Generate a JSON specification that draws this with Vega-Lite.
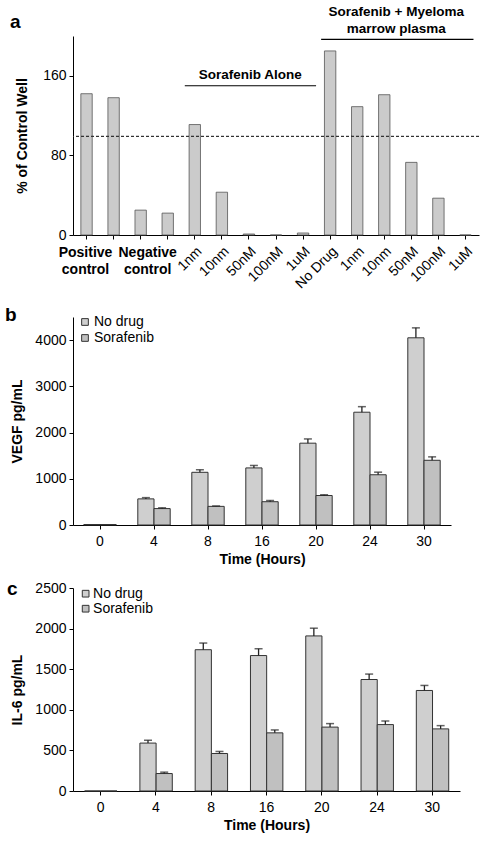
{
  "spacing": 14,
  "config": {
    "view": {"stroke": null},
    "axis": {
      "grid": false,
      "domainColor": "#000",
      "tickColor": "#000",
      "labelColor": "#000",
      "titleColor": "#000",
      "labelFont": "Liberation Sans",
      "titleFont": "Liberation Sans",
      "labelFontSize": 14,
      "titleFontSize": 14,
      "titleFontWeight": "bold",
      "tickSize": 4,
      "labelPadding": 3
    },
    "legend": {"labelFont": "Liberation Sans"},
    "text": {"font": "Liberation Sans"},
    "title": {"font": "Liberation Sans", "fontSize": 19, "fontWeight": "bold", "color": "#000"}
  },
  "vconcat": [
    {
      "width": 406,
      "height": 199,
      "title": {"text": "a", "anchor": "start", "frame": "group", "dx": -63, "offset": -27},
      "data": {
        "values": [
          {"id": " ", "value": 142},
          {"id": "  ", "value": 138},
          {"id": "   ", "value": 25},
          {"id": "    ", "value": 22},
          {"id": "1nm", "value": 111},
          {"id": "10nm", "value": 43},
          {"id": "50nM", "value": 1},
          {"id": "100nM", "value": 0},
          {"id": "1uM", "value": 2},
          {"id": "No Drug", "value": 185},
          {"id": "1nm ", "value": 129},
          {"id": "10nm ", "value": 141},
          {"id": "50nM ", "value": 73},
          {"id": "100nM ", "value": 37},
          {"id": "1uM ", "value": 0}
        ]
      },
      "layer": [
        {
          "mark": {"type": "bar", "color": "#cbcbcb", "stroke": "#555", "strokeWidth": 0.8},
          "encoding": {
            "x": {
              "field": "id", "type": "nominal",
              "scale": {
                "domain": [" ", "  ", "   ", "    ", "1nm", "10nm", "50nM", "100nM", "1uM", "No Drug", "1nm ", "10nm ", "50nM ", "100nM ", "1uM "],
                "paddingInner": 0.58, "paddingOuter": 0.29
              },
              "axis": {"title": null, "labelAngle": -45, "labelPadding": 5}
            },
            "y": {
              "field": "value", "type": "quantitative",
              "scale": {"domain": [0, 200], "nice": false},
              "axis": {"title": "% of Control Well", "values": [0, 20, 40, 60, 80, 100, 120, 140, 160, 180, 200], "titlePadding": 13, "labelOverlap": false, "labelSeparation": -12}
            }
          }
        },
        {
          "mark": {"type": "rule", "strokeDash": [3, 2], "color": "#333", "strokeWidth": 1},
          "encoding": {"y": {"datum": 99}}
        },
        {
          "data": {"values": [{"id": " ", "label": ["Positive", "control"]}]},
          "mark": {"type": "text", "fontWeight": "bold", "fontSize": 14, "baseline": "middle", "lineHeight": 16.6, "dx": -1},
          "encoding": {
            "x": {"field": "id", "type": "nominal"},
            "y": {"datum": -18},
            "text": {"field": "label"}
          }
        },
        {
          "data": {"values": [{"id": "   ", "label": ["Negative", "control"]}]},
          "mark": {"type": "text", "fontWeight": "bold", "fontSize": 14, "baseline": "middle", "lineHeight": 16.6, "dx": 7},
          "encoding": {
            "x": {"field": "id", "type": "nominal"},
            "y": {"datum": -18},
            "text": {"field": "label"}
          }
        },
        {
          "data": {"values": [{"from": "1nm", "to": "1uM"}]},
          "mark": {"type": "rule", "color": "#000", "strokeWidth": 1.2, "xOffset": -10, "x2Offset": 13},
          "encoding": {
            "x": {"field": "from", "type": "nominal"},
            "x2": {"field": "to"},
            "y": {"datum": 150}
          }
        },
        {
          "data": {"values": [{"id": "50nM", "label": "Sorafenib Alone"}]},
          "mark": {"type": "text", "fontWeight": "bold", "fontSize": 13.5, "baseline": "middle", "dx": 1.3},
          "encoding": {
            "x": {"field": "id", "type": "nominal"},
            "y": {"datum": 161},
            "text": {"field": "label"}
          }
        },
        {
          "data": {"values": [{"from": "No Drug", "to": "1uM "}]},
          "mark": {"type": "rule", "color": "#000", "strokeWidth": 1.2, "xOffset": -9, "x2Offset": 8},
          "encoding": {
            "x": {"field": "from", "type": "nominal"},
            "x2": {"field": "to"},
            "y": {"datum": 196.7}
          }
        },
        {
          "data": {"values": [{"id": "10nm ", "label": ["Sorafenib + Myeloma", "marrow plasma"]}]},
          "mark": {"type": "text", "fontWeight": "bold", "fontSize": 13.5, "baseline": "middle", "lineHeight": 16.6, "dx": 12},
          "encoding": {
            "x": {"field": "id", "type": "nominal"},
            "y": {"datum": 224},
            "text": {"field": "label"}
          }
        }
      ]
    },
    {
      "width": 378,
      "height": 208,
      "title": {"text": "b", "anchor": "start", "frame": "group", "dx": -68, "offset": -10},
      "data": {
        "values": [
          {"time": "0", "series": "No drug", "value": 10, "err": null},
          {"time": "0", "series": "Sorafenib", "value": 10, "err": null},
          {"time": "4", "series": "No drug", "value": 565, "err": 592},
          {"time": "4", "series": "Sorafenib", "value": 355, "err": 372},
          {"time": "8", "series": "No drug", "value": 1140, "err": 1195},
          {"time": "8", "series": "Sorafenib", "value": 403, "err": 412},
          {"time": "16", "series": "No drug", "value": 1235, "err": 1288},
          {"time": "16", "series": "Sorafenib", "value": 504, "err": 530},
          {"time": "20", "series": "No drug", "value": 1770, "err": 1862},
          {"time": "20", "series": "Sorafenib", "value": 638, "err": 655},
          {"time": "24", "series": "No drug", "value": 2440, "err": 2560},
          {"time": "24", "series": "Sorafenib", "value": 1087, "err": 1143},
          {"time": "30", "series": "No drug", "value": 4050, "err": 4265},
          {"time": "30", "series": "Sorafenib", "value": 1400, "err": 1474}
        ]
      },
      "layer": [
        {
          "mark": {"type": "bar", "stroke": "#333", "strokeWidth": 1},
          "encoding": {
            "x": {
              "field": "time", "type": "nominal",
              "scale": {"domain": ["0", "4", "8", "16", "20", "24", "30"], "paddingInner": 0.4, "paddingOuter": 0.2},
              "axis": {"title": "Time (Hours)", "labelAngle": 0, "labelPadding": 5, "titlePadding": 4}
            },
            "xOffset": {"field": "series", "type": "nominal", "scale": {"domain": ["No drug", "Sorafenib"]}},
            "y": {
              "field": "value", "type": "quantitative",
              "scale": {"domain": [0, 4500], "nice": false},
              "axis": {"title": "VEGF pg/mL", "values": [0, 500, 1000, 1500, 2000, 2500, 3000, 3500, 4000, 4500], "format": "d", "titlePadding": 10, "labelOverlap": false, "labelSeparation": -12}
            },
            "color": {
              "field": "series", "type": "nominal",
              "scale": {"domain": ["No drug", "Sorafenib"], "range": ["#cfcfcf", "#c0c0c0"]},
              "legend": null
            }
          }
        },
        {
          "transform": [{"filter": "isValid(datum.err)"}],
          "mark": {"type": "rule", "color": "#222", "strokeWidth": 1.3},
          "encoding": {
            "x": {"field": "time", "type": "nominal"},
            "xOffset": {"field": "series", "type": "nominal"},
            "y": {"field": "value", "type": "quantitative"},
            "y2": {"field": "err"}
          }
        },
        {
          "transform": [{"filter": "isValid(datum.err)"}],
          "mark": {"type": "tick", "color": "#222", "thickness": 1.5, "size": 8},
          "encoding": {
            "x": {"field": "time", "type": "nominal"},
            "xOffset": {"field": "series", "type": "nominal"},
            "y": {"field": "err", "type": "quantitative"}
          }
        },
        {
          "data": {"values": [{"time": "0"}]},
          "mark": {"type": "square", "size": 45, "color": "#cfcfcf", "stroke": "#333", "strokeWidth": 1, "opacity": 1, "xOffset": -15},
          "encoding": {"x": {"field": "time", "type": "nominal"}, "y": {"datum": 4392}}
        },
        {
          "data": {"values": [{"time": "0"}]},
          "mark": {"type": "square", "size": 45, "color": "#c0c0c0", "stroke": "#333", "strokeWidth": 1, "opacity": 1, "xOffset": -15},
          "encoding": {"x": {"field": "time", "type": "nominal"}, "y": {"datum": 4046}}
        },
        {
          "data": {"values": [{"time": "0", "label": "No drug"}]},
          "mark": {"type": "text", "fontSize": 14, "align": "left", "baseline": "middle", "dx": -6},
          "encoding": {"x": {"field": "time", "type": "nominal"}, "y": {"datum": 4392}, "text": {"field": "label"}}
        },
        {
          "data": {"values": [{"time": "0", "label": "Sorafenib"}]},
          "mark": {"type": "text", "fontSize": 14, "align": "left", "baseline": "middle", "dx": -6},
          "encoding": {"x": {"field": "time", "type": "nominal"}, "y": {"datum": 4046}, "text": {"field": "label"}}
        }
      ]
    },
    {
      "width": 387,
      "height": 203,
      "title": {"text": "c", "anchor": "start", "frame": "group", "dx": -66, "offset": -18},
      "data": {
        "values": [
          {"time": "0", "series": "No drug", "value": 0, "err": null},
          {"time": "0", "series": "Sorafenib", "value": 0, "err": null},
          {"time": "4", "series": "No drug", "value": 590, "err": 625},
          {"time": "4", "series": "Sorafenib", "value": 215, "err": 232},
          {"time": "8", "series": "No drug", "value": 1740, "err": 1822},
          {"time": "8", "series": "Sorafenib", "value": 462, "err": 487},
          {"time": "16", "series": "No drug", "value": 1668, "err": 1752},
          {"time": "16", "series": "Sorafenib", "value": 716, "err": 752},
          {"time": "20", "series": "No drug", "value": 1910, "err": 2005},
          {"time": "20", "series": "Sorafenib", "value": 787, "err": 830},
          {"time": "24", "series": "No drug", "value": 1373, "err": 1440},
          {"time": "24", "series": "Sorafenib", "value": 818, "err": 862},
          {"time": "30", "series": "No drug", "value": 1238, "err": 1300},
          {"time": "30", "series": "Sorafenib", "value": 765, "err": 805}
        ]
      },
      "layer": [
        {
          "mark": {"type": "bar", "stroke": "#333", "strokeWidth": 1},
          "encoding": {
            "x": {
              "field": "time", "type": "nominal",
              "scale": {"domain": ["0", "4", "8", "16", "20", "24", "30"], "paddingInner": 0.42, "paddingOuter": 0.21},
              "axis": {"title": "Time (Hours)", "labelAngle": 0, "labelPadding": 5, "titlePadding": 4}
            },
            "xOffset": {"field": "series", "type": "nominal", "scale": {"domain": ["No drug", "Sorafenib"]}},
            "y": {
              "field": "value", "type": "quantitative",
              "scale": {"domain": [0, 2500], "nice": false},
              "axis": {"title": "IL-6 pg/mL", "values": [0, 500, 1000, 1500, 2000, 2500], "format": "d", "titlePadding": 10, "labelOverlap": false, "labelSeparation": -12}
            },
            "color": {
              "field": "series", "type": "nominal",
              "scale": {"domain": ["No drug", "Sorafenib"], "range": ["#cfcfcf", "#c0c0c0"]},
              "legend": null
            }
          }
        },
        {
          "transform": [{"filter": "isValid(datum.err)"}],
          "mark": {"type": "rule", "color": "#222", "strokeWidth": 1.3},
          "encoding": {
            "x": {"field": "time", "type": "nominal"},
            "xOffset": {"field": "series", "type": "nominal"},
            "y": {"field": "value", "type": "quantitative"},
            "y2": {"field": "err"}
          }
        },
        {
          "transform": [{"filter": "isValid(datum.err)"}],
          "mark": {"type": "tick", "color": "#222", "thickness": 1.5, "size": 8},
          "encoding": {
            "x": {"field": "time", "type": "nominal"},
            "xOffset": {"field": "series", "type": "nominal"},
            "y": {"field": "err", "type": "quantitative"}
          }
        },
        {
          "data": {"values": [{"time": "0"}]},
          "mark": {"type": "square", "size": 45, "color": "#cfcfcf", "stroke": "#333", "strokeWidth": 1, "opacity": 1, "xOffset": -15},
          "encoding": {"x": {"field": "time", "type": "nominal"}, "y": {"datum": 2430}}
        },
        {
          "data": {"values": [{"time": "0"}]},
          "mark": {"type": "square", "size": 45, "color": "#c0c0c0", "stroke": "#333", "strokeWidth": 1, "opacity": 1, "xOffset": -15},
          "encoding": {"x": {"field": "time", "type": "nominal"}, "y": {"datum": 2245}}
        },
        {
          "data": {"values": [{"time": "0", "label": "No drug"}]},
          "mark": {"type": "text", "fontSize": 14, "align": "left", "baseline": "middle", "dx": -7.6},
          "encoding": {"x": {"field": "time", "type": "nominal"}, "y": {"datum": 2430}, "text": {"field": "label"}}
        },
        {
          "data": {"values": [{"time": "0", "label": "Sorafenib"}]},
          "mark": {"type": "text", "fontSize": 14, "align": "left", "baseline": "middle", "dx": -7.6},
          "encoding": {"x": {"field": "time", "type": "nominal"}, "y": {"datum": 2245}, "text": {"field": "label"}}
        }
      ]
    }
  ]
}
